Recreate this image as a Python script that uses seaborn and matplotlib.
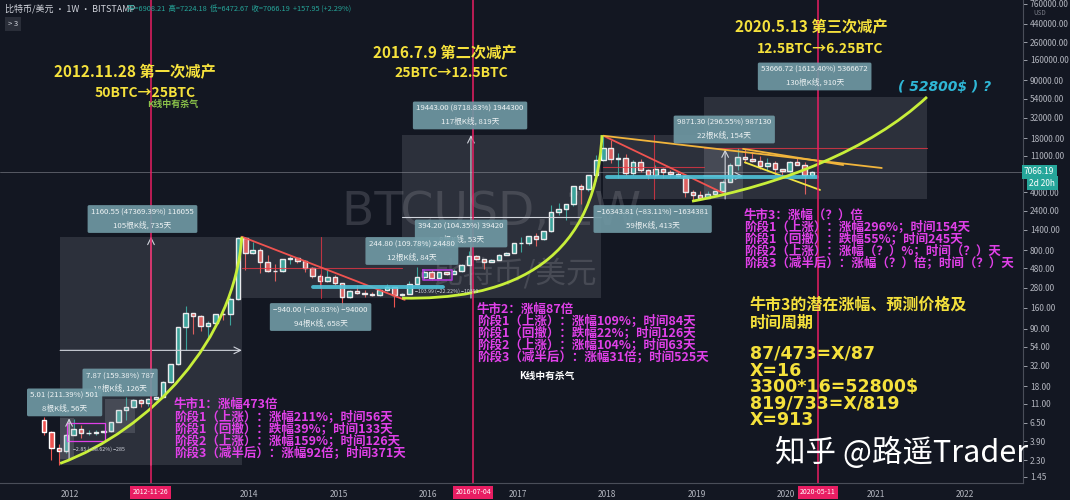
import numpy as np
import pandas as pd
import matplotlib
matplotlib.use("Agg")
import matplotlib.pyplot as plt
import matplotlib.transforms as mtransforms
from matplotlib.path import Path
from matplotlib.patches import PathPatch
import seaborn as sns

# -----------------------------
# Data: BTC/USD (Bitstamp), monthly OHLC
# -----------------------------

months = pd.date_range("2011-09-01", "2020-04-01", freq="MS")

opens = [
    7.0, 5.1, 3.25, 3.0,
    4.7, 5.5, 4.9, 4.9, 5.0, 5.15, 6.7, 9.2, 10.2, 12.4, 11.2, 12.6,
    13.5, 20.4, 33.4, 93, 139, 128, 97, 106, 135, 133, 205, 1130,
    730, 800, 570, 450, 447, 628, 635, 585, 480, 385, 338, 378,
    320, 217, 254, 245, 236, 230, 263, 284, 230, 236, 313, 377,
    430, 368, 437, 416, 448, 531, 673, 624, 575, 608, 700, 745,
    965, 965, 1190, 1080, 1350, 2300, 2480, 2870, 4700, 4340, 6440, 9900,
    13800, 10100, 10300, 6900, 9240, 7500, 6390, 7730, 7000, 6600, 6300, 4000,
    3700, 3440, 3800, 4100, 5300, 8550, 10800, 10100, 9600, 8300, 9150, 7550,
    7200, 9350, 8550, 6420,
]
highs = [
    7.6, 5.2, 3.6, 4.8,
    7.2, 6.2, 5.4, 5.3, 5.2, 6.7, 9.3, 13.5, 12.5, 12.8, 12.9, 13.8,
    21, 33.6, 95, 170, 140, 130, 110, 135, 142, 215, 1163, 1150,
    1000, 850, 700, 540, 630, 680, 640, 600, 500, 415, 460, 400,
    320, 265, 300, 260, 248, 268, 315, 285, 245, 335, 500, 470,
    460, 440, 440, 470, 550, 780, 700, 625, 625, 720, 755, 980,
    1160, 1200, 1300, 1370, 2800, 3000, 2920, 4800, 5000, 6450, 11400, 19660,
    17200, 11800, 11700, 9700, 9990, 7750, 8500, 7760, 7400, 7000, 6600, 4300,
    4100, 4200, 4150, 5600, 9000, 13880, 13200, 12300, 10950, 10500, 9500, 7750,
    9600, 10500, 9200, 7224.18,
]
lows = [
    4.6, 2.3, 2.0, 2.8,
    4.6, 4.3, 4.6, 4.7, 4.9, 5.1, 6.6, 7.1, 9.9, 10.0, 10.4, 12.3,
    13.2, 19.5, 33, 50, 78, 85, 65, 95, 115, 100, 200, 455,
    720, 420, 440, 340, 430, 550, 565, 440, 370, 275, 325, 300,
    152, 210, 235, 215, 225, 221, 255, 162, 225, 235, 300, 345,
    350, 365, 400, 413, 440, 525, 610, 470, 595, 605, 690, 740,
    750, 910, 900, 1060, 1330, 2100, 1830, 2700, 2900, 4100, 5500, 9600,
    9000, 5900, 6500, 6400, 7050, 5750, 6100, 5880, 6100, 6200, 3500, 3120,
    3350, 3380, 3700, 4050, 5300, 7500, 9100, 9350, 7700, 7300, 6500, 6400,
    6850, 8450, 3850, 6150,
]
closes = [
    5.1, 3.25, 3.0, 4.7,
    5.5, 4.9, 4.9, 5.0, 5.15, 6.7, 9.2, 10.2, 12.4, 11.2, 12.6, 13.5,
    20.4, 33.4, 93, 139, 128, 97, 106, 135, 133, 205, 1130, 730,
    800, 570, 450, 447, 628, 635, 585, 480, 385, 338, 378, 320,
    217, 254, 245, 236, 230, 263, 284, 230, 236, 313, 377, 430,
    368, 437, 416, 448, 531, 673, 624, 575, 608, 700, 745, 965,
    965, 1190, 1080, 1350, 2300, 2480, 2870, 4700, 4340, 6440, 9900, 13800,
    10100, 10300, 6900, 9240, 7500, 6390, 7730, 7000, 6600, 6300, 4000, 3700,
    3440, 3800, 4100, 5300, 8550, 10800, 10100, 9600, 8300, 9150, 7550, 7200,
    9350, 8550, 6420, 7066.19,
]

price_ticks = [1.45, 2.30, 3.90, 6.50, 11, 18, 32, 54, 90, 160, 280, 480, 800,
               1400, 2400, 4000, 11000, 18000, 32000, 54000, 90000, 160000,
               260000, 440000, 760000]
year_ticks = list(range(2012, 2023))
year_labels = ["2012", "", "2014", "2015", "2016", "2017", "2018", "2019",
               "2020", "2021", "2022"]

halvings = [2012.902, 2016.505, 2020.358]
halving_dates = ["2012-11-26", "2016-07-04", "2020-05-11"]

# measure boxes: (start, end, low, high)
range_boxes = [
    (2011.89, 2013.92, 2.0, 1160),
    (2013.92, 2015.71, 210, 1160),
    (2015.71, 2017.93, 210, 19660),
    (2017.96, 2019.08, 3320, 19660),
    (2019.08, 2021.58, 3320, 57000),
]
small_boxes = [
    (2011.89, 2012.04, 2.37, 7.38),
    (2012.39, 2012.73, 4.94, 12.81),
    (2019.08, 2019.52, 3320, 13200),
]

measure_labels = [
    (2012.81, 1900, "1160.55 (47369.39%) 116055\n105根K线, 735天"),
    (2012.56, 20.0, "7.87 (159.38%) 787\n18根K线, 126天"),
    (2011.94, 11.5, "5.01 (211.39%) 501\n8根K线, 56天"),
    (2014.80, 124, "−940.00 (−80.83%) −94000\n94根K线, 658天"),
    (2016.47, 34000, "19443.00 (8718.83%) 1944300\n117根K线, 819天"),
    (2016.37, 1270, "394.20 (104.35%) 39420\n8根K线, 53天"),
    (2015.82, 780, "244.80 (109.78%) 24480\n12根K线, 84天"),
    (2018.51, 1900, "−16343.81 (−83.11%) −1634381\n59根K线, 413天"),
    (2019.31, 23000, "9871.30 (296.55%) 987130\n22根K线, 154天"),
    (2020.32, 100700, "53666.72 (1615.40%) 5366672\n130根K线, 910天"),
]

bull_curves = [
    [(2011.89, 2.1), (2012.894, 5.33), (2013.844, 65.3), (2013.92, 1160)],
    [(2015.71, 210), (2016.804, 199), (2017.866, 459), (2017.944, 19660)],
    [(2018.95, 3120), (2019.933, 4900), (2020.939, 13000), (2021.575, 56900)],
]

trend_lines = [
    ((2013.92, 1160), (2015.74, 200), "#f05350"),
    ((2017.96, 19300), (2019.30, 3900), "#f05350"),
    ((2017.96, 19300), (2021.07, 7870), "#f2b53c"),
    ((2019.52, 13400), (2020.64, 8550), "#f2b53c"),
    ((2019.54, 9200), (2020.38, 4270), "#f0e442"),
]
support_lines = [
    (2014.715, 2016.17, 286),
    (2018.0, 2020.35, 6124),
]

bull1_text = ["牛市1：涨幅473倍",
              "阶段1（上涨）：涨幅211%；时间56天",
              "阶段1（回撤）：跌幅39%；时间133天",
              "阶段2（上涨）：涨幅159%；时间126天",
              "阶段3（减半后）：涨幅92倍；时间371天"]
bull2_text = ["牛市2：涨幅87倍",
              "阶段1（上涨）：涨幅109%；时间84天",
              "阶段1（回撤）：跌幅22%；时间126天",
              "阶段2（上涨）：涨幅104%；时间63天",
              "阶段3（减半后）：涨幅31倍；时间525天"]
bull3_text = ["牛市3：涨幅（？）倍",
              "阶段1（上涨）：涨幅296%；时间154天",
              "阶段1（回撤）：跌幅55%；时间245天",
              "阶段2（上涨）：涨幅（？）%；时间（？）天",
              "阶段3（减半后）：涨幅（？）倍；时间（？）天"]
forecast_text = ["牛市3的潜在涨幅、预测价格及", "时间周期", "",
                 "87/473=X/87", "X=16", "3300*16=52800$",
                 "819/733=X/819", "X=913"]

# -----------------------------
# Style
# -----------------------------

BG = "#131722"
UP = "#26a69a"
DOWN = "#ef5350"
AXIS_TXT = "#b2b5be"
YELLOW = "#f5e13c"
MAGENTA = "#e040e8"
LIME = "#c8ef3a"
PINK = "#e91e63"

sns.set_theme(style="dark", rc={"axes.facecolor": BG, "figure.facecolor": BG})
plt.rcParams["font.family"] = ["Noto Sans CJK SC", "DejaVu Sans"]

fig = plt.figure(figsize=(10.7, 5.0), dpi=100)
ax = fig.add_axes([0, 17 / 500, 1023 / 1070, 483 / 500])
ax.set_facecolor(BG)
ax.set_yscale("log")
ax.set_xlim(2011.218, 2022.648)
ax.set_ylim(1.218, 847000)


def axp(x, y):
    # pixel position on the chart area -> axes fraction
    return x / 1023, 1 - y / 483


# -----------------------------
# Watermark
# -----------------------------

ax.text(*axp(492, 212), "BTCUSD, 1W", transform=ax.transAxes, ha="center",
        va="center", fontsize=34, color="#5d606b", alpha=0.45, zorder=0.5,
        family="DejaVu Sans")
ax.text(*axp(515, 274), "比特币/美元", transform=ax.transAxes, ha="center",
        va="center", fontsize=22, color="#5d606b", alpha=0.45, zorder=0.5)

# -----------------------------
# Candles
# -----------------------------

df = pd.DataFrame({"month": months, "open": opens, "high": highs,
                   "low": lows, "close": closes})
df["t"] = df["month"].dt.year + (df["month"].dt.month - 0.5) / 12
df["color"] = np.where(df["close"] >= df["open"], UP, DOWN)

ax.vlines(df["t"], df["low"], df["high"], colors=df["color"], lw=0.8, zorder=3)
ax.bar(df["t"], (df["close"] - df["open"]).abs(),
       bottom=df[["open", "close"]].min(axis=1), width=0.05,
       color=df["color"], zorder=3)

ax.axhline(7066.19, color="#9598a1", lw=0.6, alpha=0.6, zorder=2)

# -----------------------------
# Range boxes and arrows
# -----------------------------

for x0, x1, y0, y1 in range_boxes:
    ax.fill_between([x0, x1], y0, y1, color="#9598a1", alpha=0.2, lw=0, zorder=4)
for x0, x1, y0, y1 in small_boxes:
    ax.fill_between([x0, x1], y0, y1, color="#b2b5be", alpha=0.2, lw=0, zorder=4)

ax.plot([2011.97, 2012.39, 2012.39, 2011.97, 2011.97], [6.5, 6.5, 3.9, 3.9, 6.5],
        color="#e040e8", lw=0.9, zorder=5)
ax.plot([2015.94, 2016.27, 2016.27, 2015.94, 2015.94], [459, 459, 348, 348, 459],
        color="#b03ad6", lw=1.2, zorder=5)

arrow = dict(arrowstyle="->", color="#d1d4dc", lw=0.8, shrinkA=0, shrinkB=0)
ax.annotate("", xy=(2012.905, 1160), xytext=(2012.905, 2.0), arrowprops=arrow, zorder=5)
ax.annotate("", xy=(2013.92, 49), xytext=(2011.89, 49), arrowprops=arrow, zorder=5)
ax.annotate("", xy=(2016.48, 19660), xytext=(2016.48, 210), arrowprops=arrow, zorder=5)
ax.plot([2015.71, 2017.93], [2030, 2030], color="#d1d4dc", lw=0.8, zorder=5)
ax.annotate("", xy=(2011.99, 7.38), xytext=(2011.99, 2.37), arrowprops=arrow, zorder=5)
ax.annotate("", xy=(2019.32, 13200), xytext=(2019.32, 3320), arrowprops=arrow, zorder=5)
ax.annotate("", xy=(2019.52, 6300), xytext=(2019.08, 6300), arrowprops=arrow, zorder=5)

red = dict(color="#f23645", lw=0.8, alpha=0.75, zorder=5)
ax.plot([2013.92, 2015.71], [490, 490], **red)
ax.plot([2014.80, 2014.80], [210, 1160], **red)
ax.plot([2017.96, 2019.08], [8080, 8080], **red)
ax.plot([2018.52, 2018.52], [3320, 19660], **red)
ax.plot([2019.08, 2021.58], [13750, 13750], **red)

# -----------------------------
# Trend lines and bull curves
# -----------------------------

for (x0, y0), (x1, y1), c in trend_lines:
    ax.plot([x0, x1], [y0, y1], color=c, lw=1.3, zorder=6)
for x0, x1, y in support_lines:
    ax.plot([x0, x1], [y, y], color="#4fc3d9", lw=2.8, alpha=0.9, zorder=6)
for pts in bull_curves:
    path = Path(pts, [Path.MOVETO, Path.CURVE4, Path.CURVE4, Path.CURVE4])
    ax.add_patch(PathPatch(path, fc="none", ec=LIME, lw=2.0, zorder=6))

# halving lines
for x in halvings:
    ax.axvline(x, color=PINK, lw=1.1, zorder=6)

# -----------------------------
# Measure labels
# -----------------------------

for x, y, s in measure_labels:
    ax.text(x, y, s, ha="center", va="center", fontsize=5.6, color="#eef3f4",
            linespacing=1.7, zorder=8,
            bbox=dict(boxstyle="round,pad=0.45,rounding_size=0.2",
                      fc="#6f98a3", ec="none", alpha=0.92))

ax.text(2012.03, 3.0, "−2.85 (−38.62%) −285", fontsize=3.8, color="#d1d4dc", zorder=8)
ax.text(2015.86, 240, "−103.99 (−22.22%) −10399", fontsize=3.8, color="#d1d4dc", zorder=8)

# -----------------------------
# Annotation texts
# -----------------------------

def put(x, y, s, **kw):
    ax.text(*axp(x, y), s, transform=ax.transAxes, va="center", zorder=9,
            clip_on=False, **kw)


put(135, 72, "2012.11.28 第一次减产", ha="center", fontsize=11, color=YELLOW, weight="bold")
put(145, 93, "50BTC→25BTC", ha="center", fontsize=10, color=YELLOW, weight="bold")
put(173, 104, "K线中有杀气", ha="center", fontsize=6.5, color="#8bc34a", weight="bold")
put(445, 53, "2016.7.9 第二次减产", ha="center", fontsize=11, color=YELLOW, weight="bold")
put(451, 73, "25BTC→12.5BTC", ha="center", fontsize=10, color=YELLOW, weight="bold")
put(811, 27, "2020.5.13 第三次减产", ha="center", fontsize=11, color=YELLOW, weight="bold")
put(820, 49, "12.5BTC→6.25BTC", ha="center", fontsize=10, color=YELLOW, weight="bold")
put(945, 87, "( 52800$ ) ?", ha="center", fontsize=10, color="#2fb7d6",
    weight="bold", style="italic", family="DejaVu Sans")
put(547, 376, "K线中有杀气", ha="center", fontsize=7, color="white", weight="bold")

for i, s in enumerate(bull1_text):
    put(174, [404, 417, 429, 441, 453][i], s, ha="left", fontsize=9,
        color=MAGENTA, weight="bold")
for i, s in enumerate(bull2_text):
    put(477, [309, 321, 333, 345, 357][i], s, ha="left", fontsize=9,
        color=MAGENTA, weight="bold")
for i, s in enumerate(bull3_text):
    put(744, [215, 227, 239, 251, 263][i], s, ha="left", fontsize=9,
        color=MAGENTA, weight="bold")
for i, s in enumerate(forecast_text):
    if i < 2:
        put(750, [305, 323][i], s, ha="left", fontsize=11.5, color=YELLOW,
            weight="bold")
    elif s:
        put(750, [0, 0, 0, 354, 371, 387, 404, 420][i], s, ha="left",
            fontsize=12.5, color=YELLOW, weight="bold", family="DejaVu Sans")

# -----------------------------
# Axes
# -----------------------------

ax.yaxis.tick_right()
ax.set_yticks(price_ticks)
ax.set_yticklabels([f"{v:.2f}" for v in price_ticks])
ax.yaxis.set_minor_locator(matplotlib.ticker.NullLocator())
ax.set_xticks(year_ticks)
ax.set_xticklabels(year_labels)
ax.tick_params(axis="both", colors=AXIS_TXT, labelsize=6, length=3, width=0.6,
               pad=2, labelcolor=AXIS_TXT)
ax.grid(False)
for side in ["left", "top"]:
    ax.spines[side].set_visible(False)
for side in ["right", "bottom"]:
    ax.spines[side].set_color("#4a4e59")
    ax.spines[side].set_linewidth(0.8)

xtrans = mtransforms.blended_transform_factory(ax.transData, ax.transAxes)
for x, s in zip(halvings, halving_dates):
    ax.text(x, -0.019, s, transform=xtrans, ha="center", va="center",
            fontsize=5, color="white", clip_on=False, zorder=10,
            bbox=dict(boxstyle="square,pad=0.35", fc=PINK, ec="none"))

ytrans = mtransforms.blended_transform_factory(ax.transAxes, ax.transData)
ax.text(1.001, 7066.19, "7066.19", transform=ytrans, ha="left", va="center",
        fontsize=6, color="white", clip_on=False, zorder=10,
        bbox=dict(boxstyle="square,pad=0.3", fc=UP, ec="none"))
ax.text(1.006, 5150, "2d 20h", transform=ytrans, ha="left", va="center",
        fontsize=6, color="white", clip_on=False, zorder=10,
        bbox=dict(boxstyle="square,pad=0.3", fc=UP, ec="none"))

# -----------------------------
# Header and signature
# -----------------------------

fig.text(5 / 1070, 1 - 9 / 500, "比特币/美元 · 1W · BITSTAMP", color="#d1d4dc",
         fontsize=6.5, va="center")
fig.text(127 / 1070, 1 - 9 / 500,
         "开=6908.21  高=7224.18  低=6472.67  收=7066.19  +157.95 (+2.29%)",
         color=UP, fontsize=5.3, va="center")
fig.text(8 / 1070, 1 - 24 / 500, "> 3", color="#d1d4dc", fontsize=5.5, va="center",
         bbox=dict(boxstyle="square,pad=0.4", fc="#2a2e39", ec="none"))
fig.text(1040 / 1070, 1 - 13 / 500, "USD", color="#787b86", fontsize=4.5,
         ha="center", va="center")
fig.text(775 / 1070, 1 - 453 / 500, "知乎 @路遥Trader", color="white",
         fontsize=22, va="center", zorder=20)

fig.savefig("out.png", dpi=100, facecolor=BG)
